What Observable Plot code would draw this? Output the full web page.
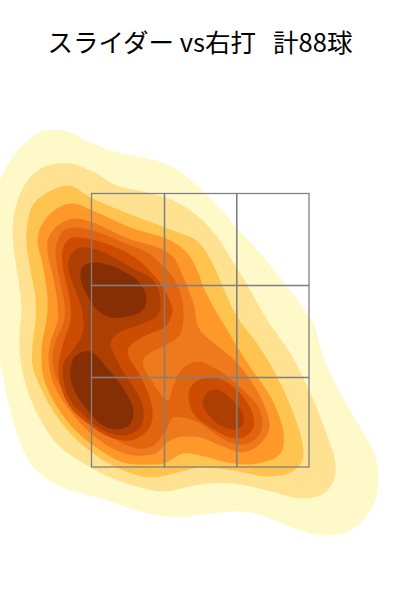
<!DOCTYPE html>
<html><head><meta charset="utf-8">
<script src="https://cdn.jsdelivr.net/npm/d3@7"></script>
<script src="https://cdn.jsdelivr.net/npm/@observablehq/plot@0.6"></script>
<style>
html,body{margin:0;padding:0;background:#fff;}
#title{height:90px;width:400px;box-sizing:border-box;padding-top:25px;text-align:center;font:25.5px/32px "Noto Sans CJK JP",sans-serif;white-space:pre;color:#000;}
svg{display:block;}
</style></head><body>
<div id="title"></div>
<div id="chart"></div>
<script>
const titleText = "スライダー vs右打   計88球";
const levelColors = ["#fff9c9","#fee291","#fec44f","#fe9929","#ef7a1d","#e2640f","#cc4c02","#ae3f03","#862f04"];
const level1 = [[55,129],[70,132],[90,142],[117,152],[147,158],[173,167],[200,188],[217,205],[237,228],[260,253],[290,290],[308,315],[312,320],[323,357],[340,393],[360,427],[375,457],[378,483],[370,510],[350,530],[328,535],[300,530],[267,517],[243,511],[220,512],[200,514],[177,517],[143,512],[100,498],[58,485],[33,467],[20,443],[8,403],[0,363],[-10,320],[-15,270],[-12,220],[0,178],[13,155],[25,142],[40,131]];
const level2 = [[57,163],[70,163],[90,170],[117,185],[147,192],[173,200],[200,218],[218,238],[233,262],[250,290],[267,320],[290,353],[310,393],[325,430],[335,463],[333,480],[323,493],[303,498],[267,490],[233,483],[200,484],[163,491],[140,487],[110,477],[83,463],[58,445],[42,423],[28,393],[20,360],[19,335],[21,307],[18,280],[14,253],[12,227],[15,207],[25,183],[40,168]];
const level3 = [[68,185],[92,198],[133,215],[167,228],[197,241],[213,265],[223,288],[237,317],[258,345],[277,377],[293,413],[302,443],[302,460],[290,472],[267,476],[233,470],[200,467],[177,472],[150,477],[123,470],[100,458],[77,440],[57,417],[40,387],[32,365],[32,345],[35,320],[35,297],[30,270],[26,243],[27,222],[32,205],[47,192]];
const level4 = [[72,203],[92,210],[130,227],[170,240],[187,253],[197,270],[203,287],[215,310],[227,330],[237,347],[250,367],[272,400],[283,433],[280,453],[257,463],[233,463],[200,455],[183,453],[163,463],[150,464],[123,462],[97,448],[75,430],[57,407],[43,377],[41,355],[42,340],[46,320],[47,298],[42,263],[37,240],[42,223],[55,209]];
const level5 = [[75,218],[92,222],[130,239],[160,248],[173,257],[183,277],[193,303],[198,327],[210,340],[225,352],[237,363],[250,380],[263,403],[269,427],[260,443],[243,452],[220,445],[200,437],[177,437],[165,443],[157,452],[133,455],[110,447],[87,430],[67,407],[53,383],[48,360],[50,342],[57,320],[57,303],[53,278],[47,252],[48,237],[60,223]];
const level6 = [[73,227],[92,230],[130,245],[147,252],[160,263],[170,273],[180,293],[183,318],[178,336],[160,347],[147,354],[142,362],[153,383],[167,400],[173,385],[182,368],[197,361],[215,368],[228,377],[243,390],[257,405],[262,420],[260,432],[250,442],[237,444],[220,437],[200,423],[187,418],[173,417],[165,430],[153,445],[137,448],[113,438],[90,423],[70,402],[57,380],[52,360],[55,341],[63,322],[64,305],[58,273],[55,253],[57,240],[63,230]];
const level7a = [[73,237],[92,239],[130,254],[150,271],[160,283],[168,297],[172,310],[165,326],[147,334],[130,345],[127,352],[140,376],[150,400],[152,417],[147,430],[130,440],[110,437],[90,425],[70,407],[60,385],[58,365],[63,342],[70,320],[69,297],[63,270],[62,250],[67,240]];
const level7b = [[188,393],[193,383],[207,377],[223,380],[240,393],[252,413],[253,427],[243,437],[230,437],[210,427],[193,413]];
const level8a = [[68,260],[77,248],[92,248],[110,255],[133,268],[153,280],[160,300],[157,315],[137,325],[117,333],[110,343],[112,350],[122,370],[137,393],[143,410],[140,427],[123,435],[103,430],[87,418],[70,400],[63,380],[63,363],[72,350],[80,338],[83,327],[82,313],[80,303],[70,277]];
const level8b = [[202,402],[207,392],[217,389],[230,398],[242,413],[242,425],[233,429],[220,425],[207,413]];
const level9a = [[80,273],[83,265],[93,262],[110,265],[127,273],[140,283],[146,298],[142,310],[127,316],[110,317],[95,308],[88,297],[81,282]];
const level9b = [[70,373],[73,358],[83,351],[92,352],[107,368],[123,388],[133,410],[130,423],[118,429],[103,425],[87,410],[73,388]];
const zoneX = [91.5,164.5,236.7,309];
const zoneY = [193.5,285.5,377.5,467];

const contours = [
  [level1,0],[level2,1],[level3,2],[level4,3],[level5,4],[level6,5],
  [level7a,6],[level7b,6],[level8a,7],[level8b,7],[level9a,8],[level9b,8]
];
const cells = [];
for (let i=0;i<3;i++) for (let j=0;j<3;j++)
  cells.push({x1:zoneX[i],x2:zoneX[i+1],y1:zoneY[j],y2:zoneY[j+1]});

document.getElementById("title").textContent = titleText;
const plot = Plot.plot({
  width:400, height:510,
  marginLeft:0, marginRight:0, marginTop:0, marginBottom:0,
  x:{domain:[0,400], range:[0,400], axis:null},
  y:{domain:[90,600], range:[0,510], axis:null},
  marks:[
    ...contours.map(([pts,k]) => Plot.line(pts,{x:d=>d[0],y:d=>d[1],curve:"catmull-rom-closed",fill:levelColors[k],stroke:"none"})),
    Plot.rect(cells,{x1:"x1",x2:"x2",y1:"y1",y2:"y2",fill:"none",stroke:"#808080",strokeWidth:1.3})
  ]
});
document.getElementById("chart").appendChild(plot);
</script>
</body></html>
